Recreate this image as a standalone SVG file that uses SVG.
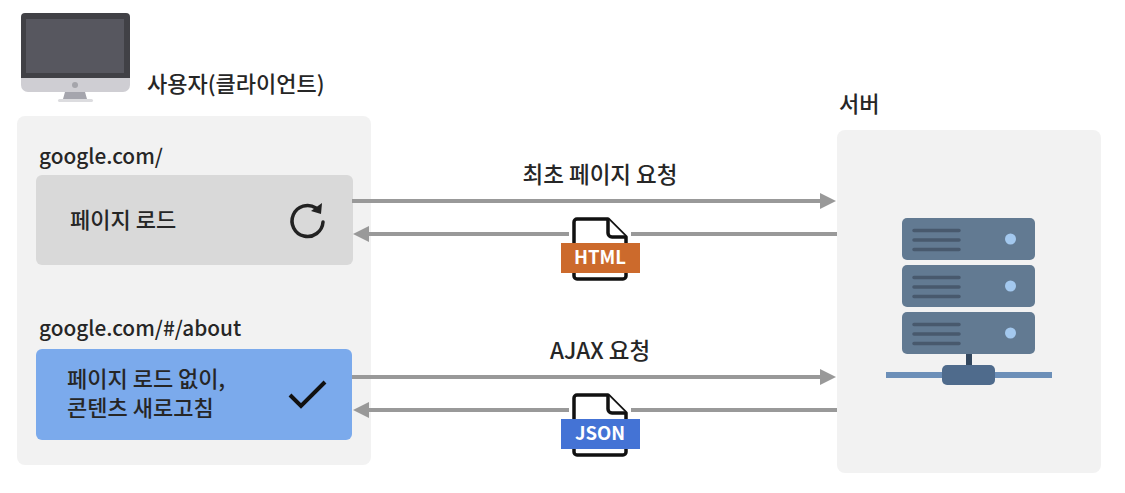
<svg xmlns="http://www.w3.org/2000/svg" width="1125" height="493" viewBox="0 0 1125 493">
<style>
text{font-family:"Noto Sans CJK KR","Noto Sans",sans-serif;fill:#262626;font-weight:500}
.l{font-size:20.8px}
.k{font-size:22px}
.h{font-size:22.5px}
.c{stroke:#999;stroke-width:4;fill:none}
.a{fill:#999}
.b{fill:#627a92}
.d{stroke:#48596d;stroke-width:3.5;stroke-linecap:round}
.o{fill:#a3c8ee}
.f{fill:#fff;stroke:#111;stroke-width:3.5;stroke-linejoin:round}
.w{fill:#fff;font-size:18.5px;font-weight:700;text-anchor:middle}
</style>
<rect width="1125" height="493" fill="#fff"/>
<g id="client-panel"><rect x="17" y="116" width="354" height="349" rx="8" fill="#f2f2f2"/></g>
<g id="server-panel"><rect x="837" y="130" width="264" height="343" rx="8" fill="#f2f2f2"/></g>
<g id="monitor">
<path d="M25 13H126a4 4 0 0 1 4 4V79H21V17a4 4 0 0 1 4-4Z" fill="#414146"/>
<rect x="26" y="19" width="98" height="54" fill="#57575f"/>
<path d="M21 78H130V85a7 7 0 0 1-7 7H28a7 7 0 0 1-7-7Z" fill="#cfced3"/>
<circle cx="75" cy="85" r="3" fill="#a5a5ab"/>
<path d="M65 92H85L87 99H63Z" fill="#a5a5ad"/>
<rect x="58" y="99" width="35" height="3" rx="1.500" fill="#dcdcdf"/>
</g>
<g id="client-label"><text class="k" x="147" y="92">사용자(클라이언트)</text></g>
<g id="server-label"><text class="k" x="839" y="112">서버</text></g>
<g id="page-load">
<text class="l" x="39" y="164">google.com/</text>
<rect x="36" y="175" width="317" height="90" rx="6" fill="#d9d9d9"/>
<text class="k" x="70" y="228">페이지 로드</text>
<path d="M323 222A15.500 15.500 0 1 1 316 208" fill="none" stroke="#222" stroke-width="3.500" stroke-linecap="round"/>
<path d="M322 203L321 214L311 211Z" fill="#222"/>
</g>
<g id="ajax-refresh">
<text class="l" x="39" y="336">google.com/#/about</text>
<rect x="36" y="349" width="316" height="91" rx="6" fill="#7baaec"/>
<text class="k" x="67" y="387">페이지 로드 없이,</text>
<text class="k" x="67" y="416">콘텐츠 새로고침</text>
<path d="M290 395L301 406L325 382" fill="none" stroke="#111" stroke-width="4"/>
</g>
<g id="connectors">
<path class="c" d="M352 201H822"/><path class="a" d="M820 193L836 201L820 209Z"/>
<path class="c" d="M369 234H569M631 234H837"/><path class="a" d="M353 234L369 226V242Z"/>
<path class="c" d="M352 377H822"/><path class="a" d="M820 369L836 377L820 385Z"/>
<path class="c" d="M369 410H569M631 410H837"/><path class="a" d="M353 410L369 402V418Z"/>
</g>
<g id="request-label-1"><text class="h" x="600" y="183" text-anchor="middle">최초 페이지 요청</text></g>
<g id="request-label-2"><text class="h" x="600" y="359" text-anchor="middle">AJAX 요청</text></g>
<g id="html-file">
<path class="f" d="M577 219H608L626 237V276a3 3 0 0 1-3 3H577a3 3 0 0 1-3-3V222a3 3 0 0 1 3-3Z"/>
<path class="f" d="M608 219V233a4 4 0 0 0 4 4H626"/>
<rect x="561" y="243" width="79" height="30" fill="#cc6a2c"/>
<text class="w" x="600" y="264">HTML</text>
</g>
<g id="json-file">
<path class="f" d="M577 395H608L626 413V452a3 3 0 0 1-3 3H577a3 3 0 0 1-3-3V398a3 3 0 0 1 3-3Z"/>
<path class="f" d="M608 395V409a4 4 0 0 0 4 4H626"/>
<rect x="561" y="419" width="79" height="30" fill="#4473d5"/>
<text class="w" x="600" y="440">JSON</text>
</g>
<g id="server">
<rect x="902" y="218" width="133" height="42" rx="5" class="b"/>
<rect x="902" y="265" width="133" height="42" rx="5" class="b"/>
<rect x="902" y="312" width="133" height="42" rx="5" class="b"/>
<path class="d" d="M914 230.500H959M914 240H959M914 249.500H959M914 277.500H959M914 287H959M914 296.500H959M914 324.500H959M914 334H959M914 343.500H959"/>
<circle class="o" cx="1010.500" cy="239" r="5.500"/>
<circle class="o" cx="1010.500" cy="286" r="5.500"/>
<circle class="o" cx="1010.500" cy="333" r="5.500"/>
<rect x="966" y="354" width="6" height="12" fill="#33475e"/>
<rect x="886" y="372" width="166" height="6" fill="#6c8fb8"/>
<rect x="942" y="365" width="53" height="20" rx="5" fill="#4f6b8c"/>
</g>
</svg>
